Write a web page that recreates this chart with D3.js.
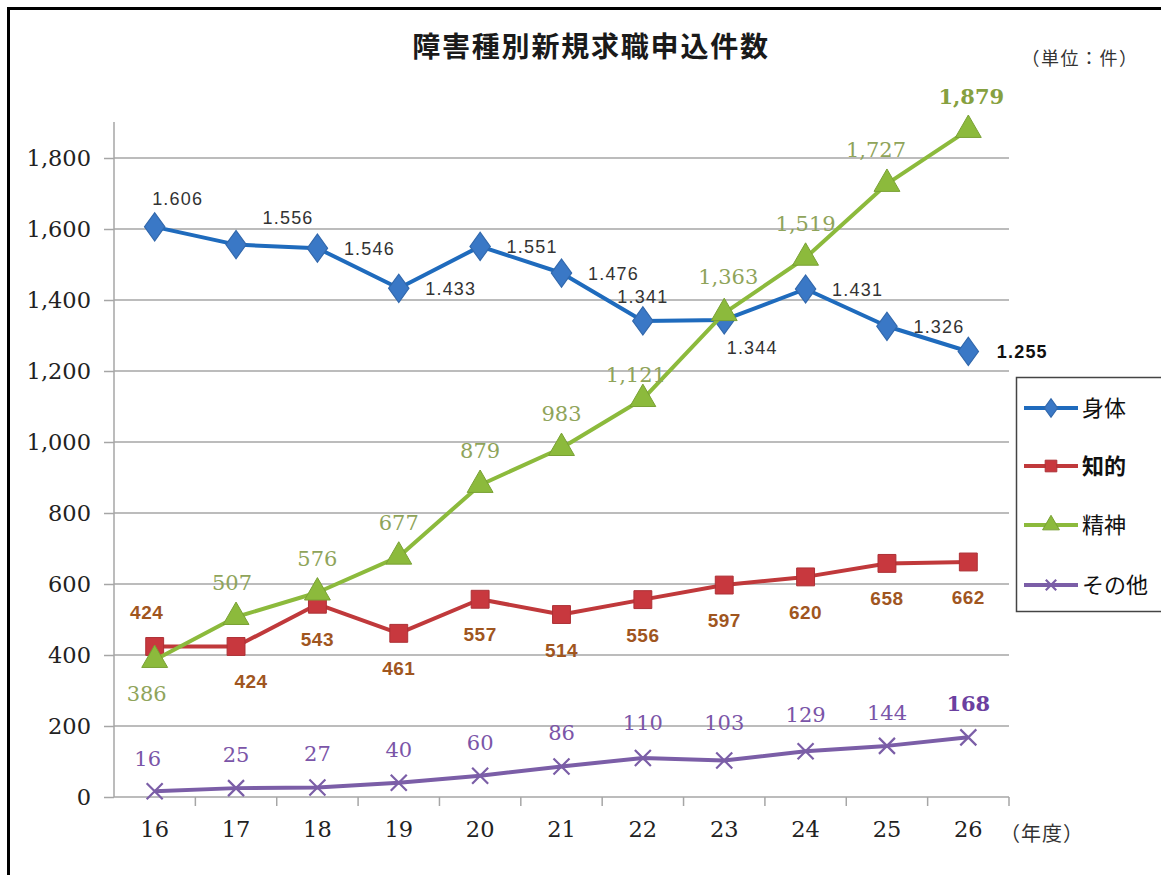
<!DOCTYPE html>
<html><head><meta charset="utf-8">
<script src="https://cdn.jsdelivr.net/npm/d3@7"></script>
<style>body{margin:0;background:#fff}svg{display:block}</style>
</head><body>
<svg id="c" width="1161" height="875"></svg>
<script>
const categories = ["16","17","18","19","20","21","22","23","24","25","26"];
const shintai = [1606,1556,1546,1433,1551,1476,1341,1344,1431,1326,1255];
const chiteki = [424,424,543,461,557,514,556,597,620,658,662];
const seishin = [386,507,576,677,879,983,1121,1363,1519,1727,1879];
const sonota = [16,25,27,40,60,86,110,103,129,144,168];
const yTicks = [0,200,400,600,800,1000,1200,1400,1600,1800];
const seriesNames = ["身体","知的","精神","その他"];
const title = "障害種別新規求職申込件数";
const unitLabel = "（単位：件）";
const xUnitLabel = "（年度）";

// label offsets (layout only)
const labelOffsets = {
  "身体": {def:[52,7], over:{0:[23,-22],1:[52,-21],6:[0,-18],7:[28,34],10:[54,7]}},
  "知的": {def:[0,42], over:{0:[-8,-27],1:[15,42]}},
  "精神": {def:[0,-27], over:{0:[-8,41],1:[-4,-27],6:[-7,-17],7:[4,-29],10:[3,-26],9:[-11,-27]}},
  "その他": {def:[0,-26], over:{0:[-7,-25],6:[0,-28],7:[0,-30],8:[0,-29]}}
};

const svg = d3.select("#c");
const W = 1161, H = 875;
const x = d3.scaleBand().domain(categories).range([114, 1009]).padding(0);
const y = d3.scaleLinear().domain([0,1800]).range([797,158]);
const cx = c => x(c) + x.bandwidth()/2;

// outer frame (top/left)
svg.append("line").attr("x1",8).attr("x2",W).attr("y1",8.5).attr("y2",8.5).attr("stroke","#000").attr("stroke-width",3);
svg.append("line").attr("x1",8.5).attr("x2",8.5).attr("y1",7).attr("y2",H).attr("stroke","#000").attr("stroke-width",3);

// gridlines
svg.append("g").selectAll("line").data(yTicks.filter(d=>d>0)).join("line")
  .attr("x1",114).attr("x2",1009).attr("y1",d=>y(d)).attr("y2",d=>y(d))
  .attr("stroke","#a6a6a6").attr("stroke-width",1.5);

// y axis
const yAxis = svg.append("g").attr("transform","translate(114,0)")
  .call(d3.axisLeft(y).tickValues(yTicks).tickFormat(d3.format(",")).tickSize(10).tickPadding(13));
yAxis.select(".domain").attr("d","M0,122V797").attr("stroke","#a6a6a6").attr("stroke-width",1.5);
yAxis.selectAll(".tick line").attr("stroke","#a6a6a6").attr("stroke-width",1.5);
yAxis.selectAll(".tick text").attr("font-family","'DejaVu Serif', serif").attr("font-size",22.5).attr("fill","#222");

// x axis
const xAxis = svg.append("g").attr("transform","translate(0,797)")
  .call(d3.axisBottom(x).tickSize(0).tickPadding(24));
xAxis.select(".domain").attr("d","M114,0H1009").attr("stroke","#a6a6a6").attr("stroke-width",1.5);
xAxis.selectAll(".tick text").attr("font-family","'DejaVu Serif', serif").attr("font-size",22.5).attr("fill","#222");
const bounds = categories.map(c=>x(c)).concat([x.range()[1]]).slice(1);
xAxis.append("g").selectAll("line").data(bounds).join("line")
  .attr("x1",d=>d).attr("x2",d=>d).attr("y1",0).attr("y2",9)
  .attr("stroke","#a6a6a6").attr("stroke-width",1.5);

// title & units
svg.append("text").attr("x",591).attr("y",57).attr("text-anchor","middle")
  .attr("font-family","'Noto Sans CJK JP'").attr("font-size",28).attr("font-weight","bold")
  .attr("letter-spacing",1.8).attr("fill","#1a1a1a").text(title);
svg.append("text").attr("x",1080).attr("y",65).attr("text-anchor","middle")
  .attr("font-family","'Noto Sans CJK JP'").attr("font-size",18).attr("letter-spacing",1.5).attr("fill","#333").text(unitLabel);
svg.append("text").attr("x",1000).attr("y",841)
  .attr("font-family","'Noto Sans CJK JP'").attr("font-size",20).attr("letter-spacing",1).attr("fill","#333").text(xUnitLabel);

const dotLoc = d3.formatLocale({decimal:",",thousands:".",grouping:[3],currency:["",""]});
const series = [
  {name:"身体", data:shintai, color:"#1f6bbd", mcol:"#3a78c6", sym:d3.symbolDiamond, size:230,
   lab:{font:"'Liberation Sans', Arial, sans-serif", size:18, color:"#333", fmt:dotLoc.format(","), ls:1.2, lastBold:true, lastColor:"#111"}},
  {name:"知的", data:chiteki, color:"#c0393b", mcol:"#c8383e", sym:d3.symbolSquare, size:320,
   lab:{font:"'Liberation Sans', Arial, sans-serif", size:19, color:"#a0561f", fmt:d3.format(","), ls:0.5, weight:"bold"}},
  {name:"精神", data:seishin, color:"#8cba3c", mcol:"#8cba3c", sym:d3.symbolTriangle, size:290,
   lab:{font:"'DejaVu Serif', serif", size:21, color:"#8fa45a", fmt:d3.format(","), ls:0, lastBold:true, lastColor:"#86a040"}},
  {name:"その他", data:sonota, color:"#7b5ea7", mcol:"#7b5ea7", sym:"x", size:0,
   lab:{font:"'DejaVu Serif', serif", size:21, color:"#7b55a8", fmt:d3.format(","), ls:0, lastBold:true, lastColor:"#6b3fa0"}}
];

const lineGen = d3.line().x(d=>cx(d.c)).y(d=>y(d.v));
function drawMarker(g, s, px, py, scale){
  scale = scale||1;
  if (s.sym === "x") {
    const r = 8*scale;
    g.append("path").attr("d",`M${px-r},${py-r}L${px+r},${py+r}M${px-r},${py+r}L${px+r},${py-r}`)
      .attr("stroke",s.mcol).attr("stroke-width",2.2).attr("fill","none");
  } else {
    g.append("path").attr("d",d3.symbol().type(s.sym).size(s.size*scale*scale)())
      .attr("transform",`translate(${px},${py})${s.sym===d3.symbolDiamond?" scale(1.25,1)":""}`)
      .attr("fill",s.mcol).attr("stroke",d3.color(s.mcol).darker(0.4)).attr("stroke-width",1);
  }
}

series.forEach(s=>{
  const pts = categories.map((c,i)=>({c, v:s.data[i]}));
  const g = svg.append("g");
  g.append("path").datum(pts).attr("d",lineGen).attr("fill","none")
    .attr("stroke",s.color).attr("stroke-width",4).attr("stroke-linejoin","round");
  pts.forEach(p=>drawMarker(g, s, cx(p.c), y(p.v)));
});
// labels
series.forEach(s=>{
  const off = labelOffsets[s.name];
  const g = svg.append("g");
  s.data.forEach((v,i)=>{
    const o = off.over[i] || off.def;
    const last = i === s.data.length-1;
    g.append("text")
      .attr("x", cx(categories[i]) + o[0]).attr("y", y(v) + o[1])
      .attr("text-anchor","middle")
      .attr("font-family", s.lab.font).attr("font-size", s.lab.size)
      .attr("letter-spacing", s.lab.ls)
      .attr("font-weight", (last && s.lab.lastBold) ? "bold" : (s.lab.weight||"normal"))
      .attr("fill", (last && s.lab.lastColor) ? s.lab.lastColor : s.lab.color)
      .text(s.lab.fmt(v));
  });
});

// legend
const lg = svg.append("g");
lg.append("rect").attr("x",1016.5).attr("y",377.5).attr("width",160).attr("height",234)
  .attr("fill","#fff").attr("stroke","#444").attr("stroke-width",1.5);
const rowY = [408,466,525,585];
series.forEach((s,i)=>{
  const yy = rowY[i];
  lg.append("line").attr("x1",1024).attr("x2",1078).attr("y1",yy).attr("y2",yy)
    .attr("stroke",s.color).attr("stroke-width",4);
  drawMarker(lg, s, 1051, yy, 0.65);
  lg.append("text").attr("x",1082).attr("y",yy+8)
    .attr("font-family","'Noto Sans CJK JP'").attr("font-size",22)
    .attr("font-weight", s.name==="知的" ? "bold" : "normal")
    .attr("fill","#111").text(s.name);
});
</script>
</body></html>
